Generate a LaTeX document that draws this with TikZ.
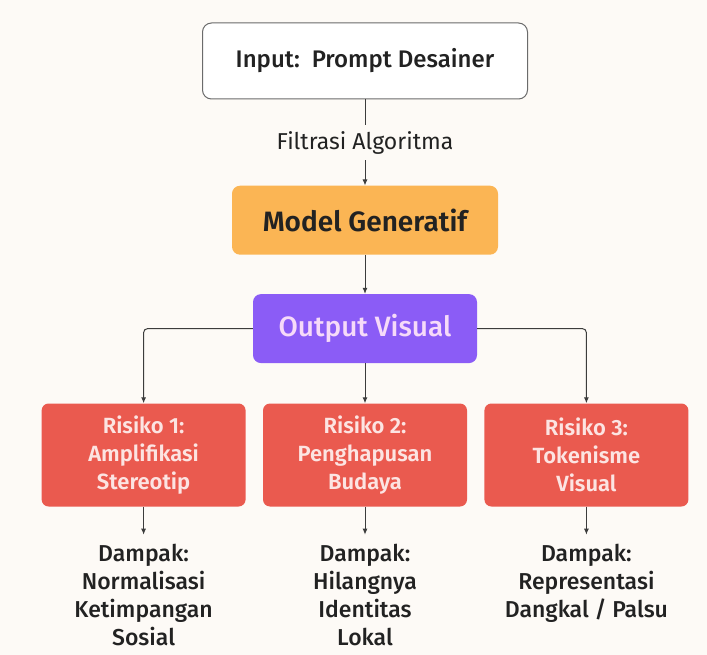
\documentclass[tikz,border=0pt]{standalone}
\usepackage{fontspec}
\setmainfont{Fira Sans}[BoldFont={Fira Sans SemiBold}]
\newfontfamily\medfont{Fira Sans Medium}
\usepackage{xcolor}
\usetikzlibrary{arrows.meta,positioning}
\definecolor{paper}{HTML}{FDFAF6}
\definecolor{inkdark}{HTML}{222222}
\definecolor{wiregray}{HTML}{3C3C3C}
\definecolor{edgegray}{HTML}{6B6B6B}
\definecolor{genorange}{HTML}{FBB554}
\definecolor{outviolet}{HTML}{8B5CF6}
\definecolor{riskred}{HTML}{EA5A4F}
\definecolor{riskpink}{HTML}{FCE4E2}
\definecolor{outpink}{HTML}{F6DAF9}

\begin{document}
\begin{tikzpicture}[
  x=1pt,y=1pt,
  node distance=40pt and 17pt,
  inbox/.style={draw=edgegray,fill=white,line width=1pt,rounded corners=9pt,
    minimum width=325pt,minimum height=76pt,text=inkdark,
    font=\fontsize{24}{28}\selectfont\medfont},
  genbox/.style={fill=genorange,rounded corners=8pt,
    minimum width=266pt,minimum height=69pt,text=inkdark,
    font=\fontsize{28}{32}\selectfont\bfseries},
  outbox/.style={fill=outviolet,rounded corners=8pt,
    minimum width=224pt,minimum height=69pt,text=outpink,
    font=\fontsize{28}{32}\selectfont\medfont},
  riskbox/.style={fill=riskred,rounded corners=7pt,
    minimum width=204pt,minimum height=103pt,text=riskpink,align=center,
    font=\fontsize{22}{28}\selectfont\bfseries},
  impact/.style={align=center,inner sep=0pt,outer ysep=9pt,text=inkdark,
    font=\fontsize{23}{28.3}\selectfont\medfont},
  arr/.style={-{Latex[length=6pt,width=5pt]},line width=1pt,wiregray}
]
\fill[paper] (0,0) rectangle (707,-655);
\useasboundingbox (0,0) rectangle (707,-655);

\node[inbox] (inp) at (365,-61) {Input:\, Prompt Desainer};
\node[genbox,below=86pt of inp] (gen) {Model Generatif};
\node[outbox,below=39pt of gen] (vis) {Output Visual};
\node[riskbox,below=of vis] (r2) {Risiko 2:\\Penghapusan\\Budaya};
\node[riskbox,left=of r2] (r1) {Risiko 1:\\Amplifikasi\\Stereotip};
\node[riskbox,right=of r2] (r3) {Risiko 3:\\Tokenisme\\Visual};

\node[impact,below=28pt of r1] (d1) {Dampak:\\Normalisasi\\Ketimpangan\\Sosial};
\node[impact,below=28pt of r2] (d2) {Dampak:\\Hilangnya\\Identitas\\Lokal};
\node[impact,below=28pt of r3] (d3) {Dampak:\\Representasi\\Dangkal / Palsu};

% alur utama
\draw[arr] (inp) -- node[fill=paper,inner xsep=4pt,inner ysep=6pt,text=inkdark,
  font=\fontsize{23}{27}\selectfont] {Filtrasi Algoritma} (gen);
\draw[arr] (gen) -- (vis);

% cabang risiko
\draw[arr,rounded corners=4pt] (vis.west) -| (r1.north);
\draw[arr] (vis) -- (r2);
\draw[arr,rounded corners=4pt] (vis.east) -| (r3.north);

\draw[arr] (r1) -- (d1);
\draw[arr] (r2) -- (d2);
\draw[arr] (r3) -- (d3);
\end{tikzpicture}
\end{document}
